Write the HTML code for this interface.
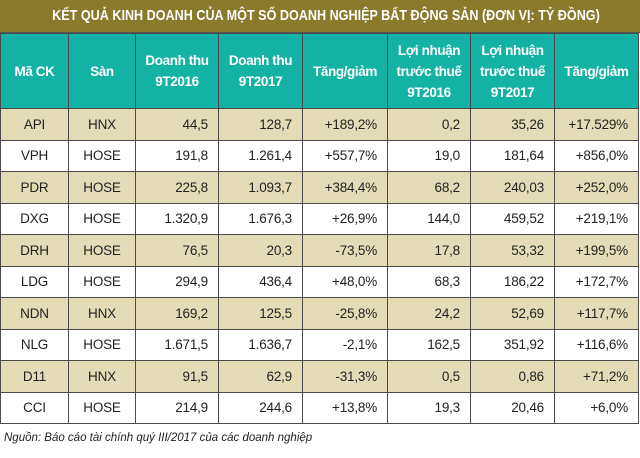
<!DOCTYPE html>
<html><head><meta charset="utf-8"><style>
body{margin:0;width:640px;height:458px;background:#fff;overflow:hidden;font-family:"Liberation Sans Narrow","Liberation Sans",sans-serif;}
#title{position:absolute;left:0;top:0;width:640px;height:32px;background:#8a7a2c;color:#fff;font-weight:bold;font-size:15px;line-height:32px;text-align:center;border-bottom:1px solid #555;white-space:nowrap;}
#title span{display:inline-block;transform:scaleX(0.84);}
table{position:absolute;left:0;top:33px;border-collapse:collapse;table-layout:fixed;width:638px;}
td,th{border:1.5px solid #4a4a4a;font-size:13.5px;padding:0 10px;color:#222;letter-spacing:-0.2px;}
th{background:#14b2a5;color:#fff;font-weight:bold;height:74px;font-size:13.5px;line-height:21px;text-align:center;padding:0 2px;letter-spacing:-0.4px;}
td{height:30.5px;text-align:right;}
td.c{text-align:center;}
tr.o td{background:#e3dcb7;}
#note{position:absolute;left:4px;top:432px;font-size:11.5px;font-style:italic;color:#222;}
</style></head><body>
<div id="title"><span>KẾT QUẢ KINH DOANH CỦA MỘT SỐ DOANH NGHIỆP BẤT ĐỘNG SẢN (ĐƠN VỊ: TỶ ĐỒNG)</span></div>
<table>
<colgroup><col style="width:68px"><col style="width:67px"><col style="width:83px"><col style="width:84px"><col style="width:85px"><col style="width:83px"><col style="width:84px"><col style="width:84px"></colgroup>
<tr><th>Mã CK</th><th>Sàn</th><th>Doanh thu<br>9T2016</th><th>Doanh thu<br>9T2017</th><th>Tăng/giảm</th><th>Lợi nhuận<br>trước thuế<br>9T2016</th><th>Lợi nhuận<br>trước thuế<br>9T2017</th><th>Tăng/giảm</th></tr>
<tr class="o"><td class="c">API</td><td class="c">HNX</td><td>44,5</td><td>128,7</td><td>+189,2%</td><td>0,2</td><td>35,26</td><td>+17.529%</td></tr>
<tr><td class="c">VPH</td><td class="c">HOSE</td><td>191,8</td><td>1.261,4</td><td>+557,7%</td><td>19,0</td><td>181,64</td><td>+856,0%</td></tr>
<tr class="o"><td class="c">PDR</td><td class="c">HOSE</td><td>225,8</td><td>1.093,7</td><td>+384,4%</td><td>68,2</td><td>240,03</td><td>+252,0%</td></tr>
<tr><td class="c">DXG</td><td class="c">HOSE</td><td>1.320,9</td><td>1.676,3</td><td>+26,9%</td><td>144,0</td><td>459,52</td><td>+219,1%</td></tr>
<tr class="o"><td class="c">DRH</td><td class="c">HOSE</td><td>76,5</td><td>20,3</td><td>-73,5%</td><td>17,8</td><td>53,32</td><td>+199,5%</td></tr>
<tr><td class="c">LDG</td><td class="c">HOSE</td><td>294,9</td><td>436,4</td><td>+48,0%</td><td>68,3</td><td>186,22</td><td>+172,7%</td></tr>
<tr class="o"><td class="c">NDN</td><td class="c">HNX</td><td>169,2</td><td>125,5</td><td>-25,8%</td><td>24,2</td><td>52,69</td><td>+117,7%</td></tr>
<tr><td class="c">NLG</td><td class="c">HOSE</td><td>1.671,5</td><td>1.636,7</td><td>-2,1%</td><td>162,5</td><td>351,92</td><td>+116,6%</td></tr>
<tr class="o"><td class="c">D11</td><td class="c">HNX</td><td>91,5</td><td>62,9</td><td>-31,3%</td><td>0,5</td><td>0,86</td><td>+71,2%</td></tr>
<tr><td class="c">CCI</td><td class="c">HOSE</td><td>214,9</td><td>244,6</td><td>+13,8%</td><td>19,3</td><td>20,46</td><td>+6,0%</td></tr>
</table>
<div id="note">Nguồn: Báo cáo tài chính quý III/2017 của các doanh nghiệp</div>
</body></html>
